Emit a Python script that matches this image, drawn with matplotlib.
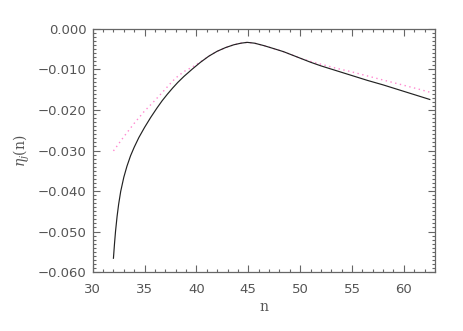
import matplotlib
matplotlib.use("Agg")
import matplotlib.pyplot as plt
from matplotlib.ticker import MultipleLocator, FuncFormatter

# data
n_exact = [32.0, 32.1, 32.2, 32.35, 32.5, 32.7, 33.0, 33.3, 33.65, 34.0, 34.45, 35.0, 35.6,
           36.2, 36.7, 37.2, 37.7, 38.2, 38.8, 39.6, 40.4, 41.2, 42.0, 42.8, 43.6, 44.3,
           44.9, 45.6, 46.5, 47.4, 48.4, 49.2, 50.0, 51.0, 52.0, 53.5, 55.0, 56.5, 58.0,
           60.0, 61.5, 62.5]
eta_exact = [-0.0566, -0.0531, -0.0500, -0.0463, -0.0433, -0.0401, -0.0366, -0.0339,
             -0.0313, -0.0292, -0.0268, -0.0243, -0.0218, -0.0195, -0.0177, -0.0161,
             -0.0146, -0.0132, -0.0117, -0.0099, -0.0082, -0.0067, -0.0055, -0.0046,
             -0.0039, -0.0035, -0.0033, -0.0035, -0.0041, -0.0048, -0.0056, -0.0064,
             -0.0072, -0.0082, -0.0091, -0.0103, -0.0115, -0.0127, -0.0138, -0.0154,
             -0.0166, -0.0174]

n_approx = [32.0, 33.0, 34.0, 34.95, 35.9, 36.7, 37.4, 38.0, 38.8, 39.6, 40.4, 41.2, 42.0,
            42.8, 43.6, 44.3, 44.9, 45.6, 46.5, 47.4, 48.4, 49.2, 50.0, 51.0, 52.0, 53.5,
            55.0, 56.5, 58.0, 60.0, 61.5, 62.5]
eta_approx = [-0.0301, -0.0266, -0.0233, -0.0204, -0.0179, -0.0157, -0.0137, -0.0121,
              -0.0105, -0.0094, -0.0081, -0.0067, -0.0055, -0.0046, -0.0039, -0.0035,
              -0.0033, -0.0035, -0.0041, -0.0048, -0.0056, -0.0064, -0.0072, -0.0080,
              -0.0087, -0.0097, -0.0106, -0.0116, -0.0126, -0.0139, -0.0149, -0.0156]

xlim = (30, 63)
ylim = (-0.060, 0.000)
xticks = [30, 35, 40, 45, 50, 55, 60]
yticks = [0.000, -0.010, -0.020, -0.030, -0.040, -0.050, -0.060]

txt = "#555555"
plt.rcParams['font.family'] = ['DejaVu Sans']
plt.rcParams['mathtext.fontset'] = 'dejavuserif'

fig = plt.figure(figsize=(4.63, 3.31), dpi=100)
ax = fig.add_axes([0.2002, 0.1782, 0.9395 - 0.2002, 0.9124 - 0.1782])

ax.plot(n_approx, eta_approx, color="#ff88d0", lw=1.0, linestyle=(0, (1, 2.5)))
ax.plot(n_exact, eta_exact, color="#222222", lw=0.85)

ax.set_xlim(*xlim)
ax.set_ylim(*ylim)
ax.set_xticks(xticks)
ax.set_yticks(yticks)
ax.xaxis.set_minor_locator(MultipleLocator(1))
ax.yaxis.set_minor_locator(MultipleLocator(0.001))

def yfmt(v, pos):
    s = "%.3f" % abs(v)
    return ("\u2212" + s) if v < -1e-9 else s
ax.yaxis.set_major_formatter(FuncFormatter(yfmt))

ax.tick_params(which="both", direction="in", top=True, right=True, color="#666666", width=0.8)
ax.tick_params(which="major", length=5)
ax.tick_params(which="minor", length=2.5)
ax.tick_params(axis="x", which="major", pad=8, labelsize=9.5, labelcolor=txt)
ax.tick_params(axis="y", which="major", pad=4.5, labelsize=9.5, labelcolor=txt)
for sp in ax.spines.values():
    sp.set_color("#666666")
    sp.set_linewidth(0.9)

ax.set_xlabel("n", family="DejaVu Serif", fontsize=10, color=txt, labelpad=3)
ax.set_ylabel(r"$\eta_j$(n)", family="DejaVu Serif", fontsize=10, color=txt, labelpad=4)

fig.savefig("out.png", dpi=100)
